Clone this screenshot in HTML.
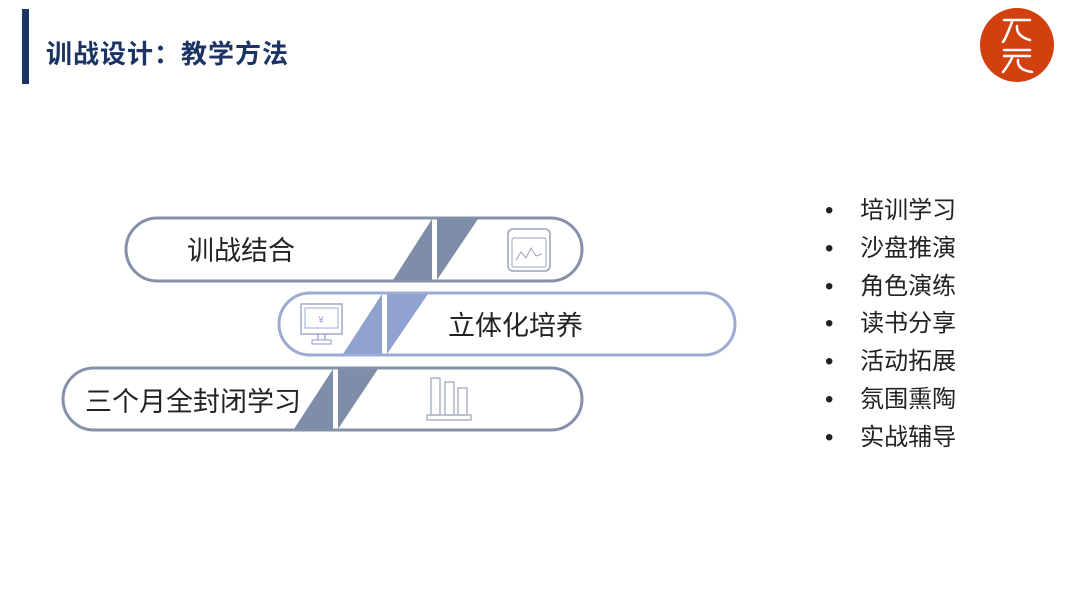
<!DOCTYPE html>
<html><head><meta charset="utf-8"><style>
html,body{margin:0;padding:0;background:#fff;}
body{width:1080px;height:608px;overflow:hidden;position:relative;font-family:"Liberation Sans","Noto Sans CJK SC",sans-serif;}
.t{position:absolute;white-space:nowrap;color:#222;}
</style></head><body>
<svg width="1080" height="608" style="position:absolute;left:0;top:0">
<rect x="22" y="9" width="7" height="75" fill="#1c3464"/>
<circle cx="1017" cy="45" r="37" fill="#d2400f"/>
<g fill="none" stroke="#fff" stroke-width="2.5" stroke-linecap="round">
<path d="M1004 20 H1030"/><path d="M1012 22 Q1006 38 1003 42"/><path d="M1017 26 Q1016 36 1030 40"/>
<path d="M1004 50 H1030"/><path d="M1004 56 H1030"/><path d="M1012 58 Q1008 66 1003 72"/><path d="M1018 60 Q1017 70 1032 72"/>
</g>
<rect x="126" y="218" width="456" height="63" rx="31.5" fill="#fff" stroke="#8591aa" stroke-width="3"/>
<polygon points="393,280 432,219 432,280" fill="#7f8ea8"/>
<polygon points="437,219 478,219 437,280" fill="#7f8ea8"/>
<rect x="508" y="229" width="42" height="42" rx="5" fill="none" stroke="#9aa3b8" stroke-width="1.5"/>
<rect x="512" y="238" width="34" height="29" rx="2" fill="none" stroke="#9aa3b8" stroke-width="1"/>
<polyline points="516,260 521,252 526,258 531,248 536,256 542,254" fill="none" stroke="#9aa3b8" stroke-width="1"/>
<rect x="279" y="293" width="456" height="62" rx="31" fill="#fff" stroke="#9dabd2" stroke-width="3"/>
<polygon points="343,354 382,294 382,354" fill="#8fa2d0"/>
<polygon points="387,294 428,294 387,354" fill="#8fa2d0"/>
<rect x="301" y="304" width="41" height="30" fill="none" stroke="#9dabd2" stroke-width="1.5"/>
<rect x="305" y="308" width="33" height="20" fill="none" stroke="#9dabd2" stroke-width="1"/>
<text x="321" y="323" font-size="10" fill="#9dabd2" text-anchor="middle">¥</text>
<path d="M318 334 V340 M325 334 V340" stroke="#9dabd2" stroke-width="1.5"/>
<rect x="312" y="340" width="19" height="4" fill="none" stroke="#9dabd2" stroke-width="1.2"/>
<rect x="63" y="368" width="519" height="62" rx="31" fill="#fff" stroke="#8591aa" stroke-width="3"/>
<polygon points="294,429 333,369 333,429" fill="#7f8ea8"/>
<polygon points="338,369 378,369 338,429" fill="#7f8ea8"/>
<g fill="none" stroke="#9aa3b8" stroke-width="1.2">
<rect x="431" y="378" width="9" height="37"/><rect x="445" y="382" width="9" height="33"/><rect x="458" y="388" width="9" height="27"/>
<rect x="427" y="415" width="44" height="5"/>
</g>
</svg>
<div class="t" style="left:46px;top:34px;font-size:26px;font-weight:bold;color:#1c3464;letter-spacing:1px">训战设计：教学方法</div>
<div class="t" style="left:187px;top:229px;font-size:27px">训战结合</div>
<div class="t" style="left:448px;top:304px;font-size:27px">立体化培养</div>
<div class="t" style="left:85px;top:380px;font-size:27px">三个月全封闭学习</div>
<div class="t" style="left:825px;top:192px;font-size:24px;line-height:37.8px">
•&nbsp;&nbsp;&nbsp;&nbsp;培训学习<br>•&nbsp;&nbsp;&nbsp;&nbsp;沙盘推演<br>•&nbsp;&nbsp;&nbsp;&nbsp;角色演练<br>•&nbsp;&nbsp;&nbsp;&nbsp;读书分享<br>•&nbsp;&nbsp;&nbsp;&nbsp;活动拓展<br>•&nbsp;&nbsp;&nbsp;&nbsp;氛围熏陶<br>•&nbsp;&nbsp;&nbsp;&nbsp;实战辅导</div>
</body></html>
